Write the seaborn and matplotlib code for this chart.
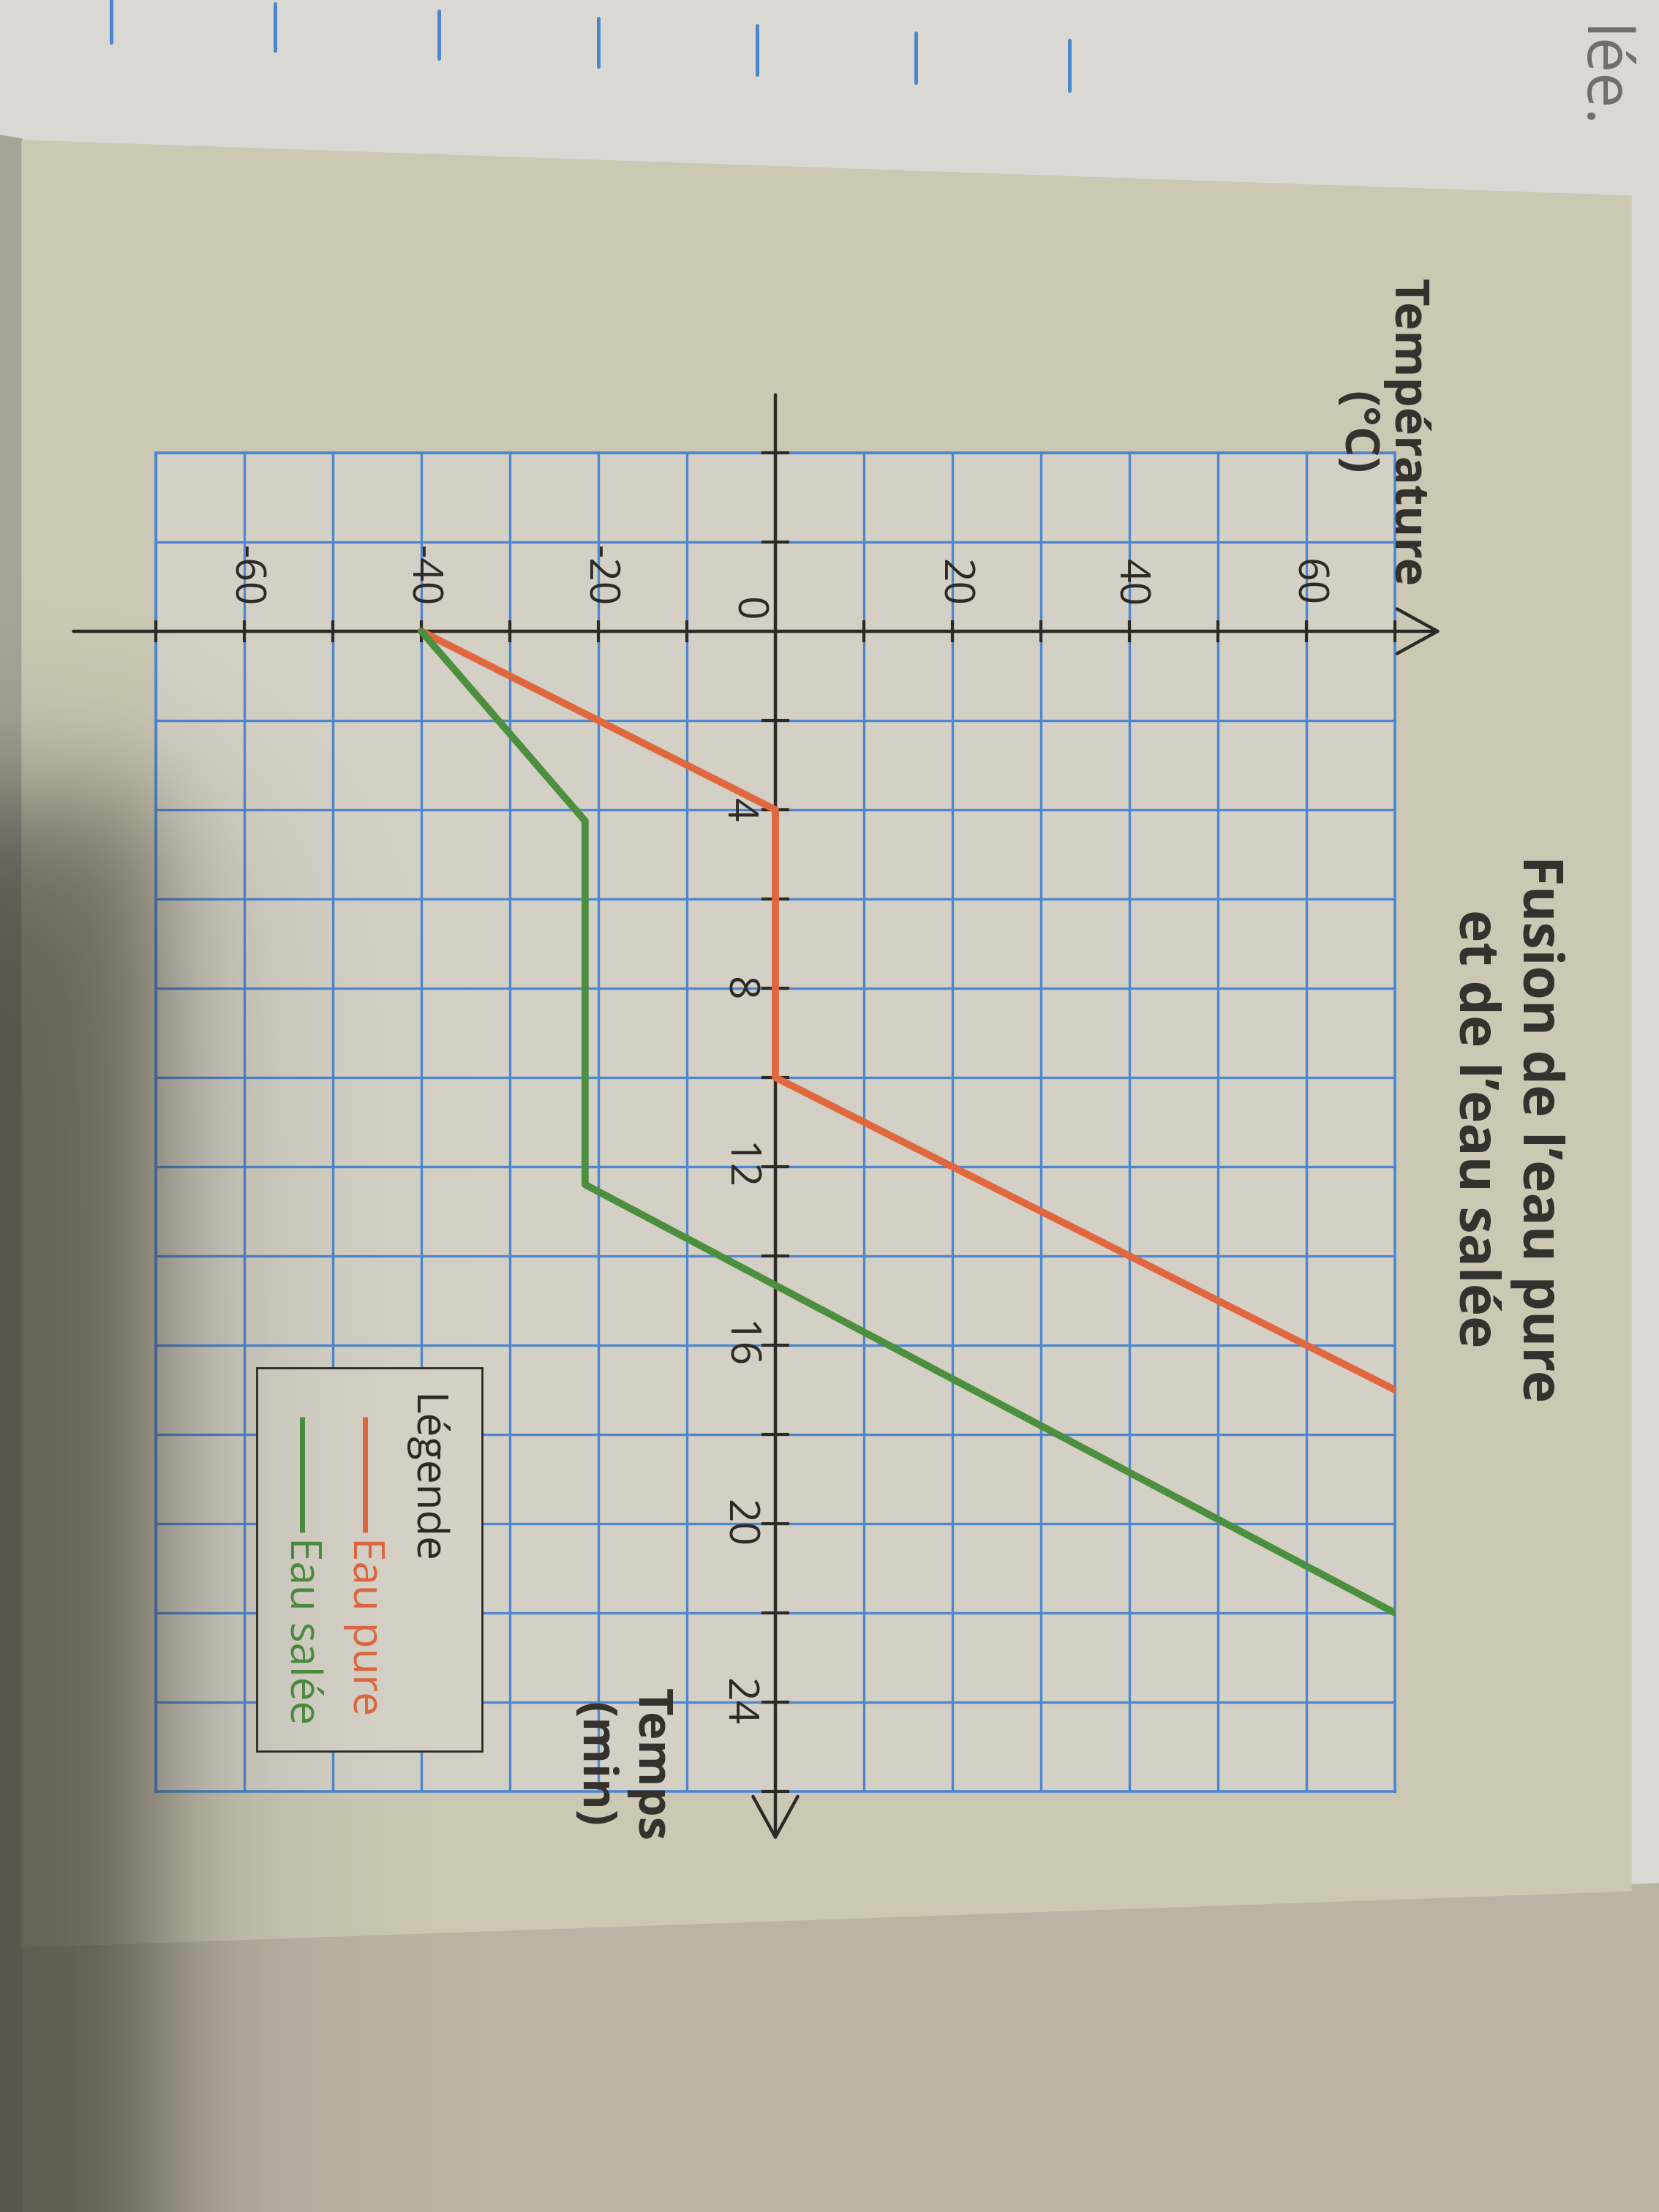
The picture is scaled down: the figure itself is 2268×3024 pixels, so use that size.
import numpy as np
import pandas as pd
import matplotlib
matplotlib.use("Agg")
import matplotlib.pyplot as plt
import seaborn as sns
from matplotlib.patches import Polygon, Rectangle

# ---------------- data ----------------
pure_time = [0, 4, 10, 17]            # min
pure_temp = [-40, 0, 0, 70]           # °C
salt_time = [0, 4.25, 12.4, 22]
salt_temp = [-40, -21.5, -21.5, 70]
series_names = ["Eau pure", "Eau salée"]
series_colors = ["#e0673e", "#4b8f3f"]
temp_tick_labels = [-60, -40, -20, 20, 40, 60]
time_tick_labels = [4, 8, 12, 16, 20, 24]
title_text = "Fusion de l’eau pure\net de l’eau salée"
temp_axis_title = "Température\n(°C)"
time_axis_title = "Temps\n(min)"
legend_title = "Légende"

W, H = 2268, 3024
sns.set_theme(style="white")
plt.rcParams["font.family"] = ["Open Sans", "DejaVu Sans"]

fig = plt.figure(figsize=(W / 100, H / 100), dpi=100)

# ---------------- photo background ----------------
bg = fig.add_axes([0, 0, 1, 1], zorder=-10)
bg.set_xlim(0, W)
bg.set_ylim(H, 0)
bg.axis("off")
bg.add_patch(Rectangle((0, 0), W, H, color="#d9d8d2"))
bg.add_patch(Polygon([(0, 2662), (W, 2575), (W, H), (0, H)], closed=True, color="#bbb4a5"))
bg.add_patch(Polygon([(0, 185), (30, 190), (30, H), (0, H)], closed=True, color="#a7a398"))
bg.add_patch(Polygon([(30, 192), (2230, 268), (2230, 2585), (30, 2662)], closed=True, color="#ccc8b4"))
for i, xv in enumerate([152, 376, 600, 818, 1035, 1252, 1462]):
    bg.plot([xv, xv], [max(0, 10 * i - 5), 58 + 11 * i], color="#4a86cc", lw=3.6)
bg.text(2185, 36, "lée.", rotation=-90, rotation_mode="anchor", ha="left", va="center",
        fontsize=62, color="#6f6e6a")

# ---------------- chart axes (grid area) ----------------
L, R, T0, B0 = 213, 1907, 619, 2449
ax = fig.add_axes([L / W, 1 - B0 / H, (R - L) / W, (B0 - T0) / H])
ax.set_xlim(-70, 70)
ax.set_ylim(26, -4)
ax.set_facecolor("#d4d0c5")
ax.set_xticks(np.arange(-70, 71, 10))
ax.set_yticks(np.arange(-4, 27, 2))
ax.tick_params(length=0, labelbottom=False, labelleft=False)
grid_blue = "#4d87cf"
ax.grid(True, color=grid_blue, lw=2.4)
for sp in ax.spines.values():
    sp.set_color(grid_blue)
    sp.set_linewidth(2.6)
ax.set_axisbelow(True)

df = pd.concat([
    pd.DataFrame({"Temps": pure_time, "Température": pure_temp, "Série": series_names[0]}),
    pd.DataFrame({"Temps": salt_time, "Température": salt_temp, "Série": series_names[1]}),
], ignore_index=True)
sns.lineplot(data=df, x="Température", y="Temps", hue="Série",
             palette=dict(zip(series_names, series_colors)), estimator=None,
             sort=False, orient="y", lw=7, legend=False, ax=ax, zorder=5)
ax.set_xlabel("")
ax.set_ylabel("")

ink = "#2d2925"
arrow = dict(arrowstyle="->,head_length=1.0,head_width=0.55", lw=3.2, color=ink,
             shrinkA=0, shrinkB=0, mutation_scale=40, clip_on=False)
ax.annotate("", xy=(75.2, 0), xytext=(-79.3, 0), arrowprops=arrow, annotation_clip=False, zorder=4)
ax.annotate("", xy=(0, 27.1), xytext=(0, -5.3), arrowprops=arrow, annotation_clip=False, zorder=4)

tt = [v for v in range(-70, 71, 10) if v != 0]
ax.vlines(tt, -0.25, 0.25, colors=ink, lw=3, clip_on=False, zorder=4)
ty = [v for v in range(-4, 27, 2) if v != 0]
ax.hlines(ty, -1.6, 1.6, colors=ink, lw=3, clip_on=False, zorder=4)

lab = dict(rotation=-90, rotation_mode="anchor", color=ink, fontsize=41, clip_on=False)
for v in temp_tick_labels:
    ax.text(v, -0.55, f"{v}", ha="right", va="center", **lab)
for v in time_tick_labels:
    ax.text(-4.3, v, f"{v}", ha="center", va="center", **lab)
ax.text(-3.3, -0.5, "0", ha="center", va="center", **lab)

bold = dict(rotation=-90, rotation_mode="anchor", color="#34302c", fontweight="bold",
            ha="center", va="center", multialignment="center", clip_on=False)
ax.text(68.4, -4.45, temp_axis_title, fontsize=47, linespacing=1.1, **bold)
ax.text(-17.4, 25.4, time_axis_title, fontsize=47, linespacing=1.25, **bold)
ax.text(82.5, 11.15, title_text, fontsize=54, linespacing=1.2, **bold)

# legend box (drawn rotated like the page)
ax.add_patch(Rectangle((-58.6, 16.5), 25.5, 8.6, facecolor="#d6d2c8", edgecolor=ink,
                       lw=2, zorder=6, clip_on=False))
leg = dict(rotation=-90, rotation_mode="anchor", ha="left", va="center", fontsize=42,
           zorder=7, clip_on=False)
ax.text(-39.7, 17.1, legend_title, color=ink, **leg)
for name, col, xv in zip(series_names, series_colors, [-46.4, -53.5]):
    ax.plot([xv, xv], [17.6, 20.2], color=col, lw=5, zorder=7, solid_capstyle="butt", clip_on=False)
    ax.text(xv, 20.3, name, color=col, **leg)

# ---------------- shadow of the photo ----------------
sh = fig.add_axes([0, 0, 1, 1], zorder=20)
xs = np.linspace(0, W, 227)
ys = np.linspace(0, H, 303)
X, Y = np.meshgrid(xs, ys)
sig = lambda z: 1 / (1 + np.exp(-z))
alpha = (0.55 * sig((215 - X) / 45) * sig((Y - 1090) / 55)
         + 0.09 * sig((400 - X) / 80) * sig((Y - 1150) / 100))
rgba = np.zeros(X.shape + (4,))
rgba[..., 0], rgba[..., 1], rgba[..., 2] = 0.18, 0.16, 0.13
rgba[..., 3] = np.clip(alpha, 0, 0.75)
sh.imshow(rgba, extent=(0, W, H, 0), interpolation="bilinear", aspect="auto")
sh.set_xlim(0, W)
sh.set_ylim(H, 0)
sh.axis("off")

fig.savefig("out.png", dpi=100)
